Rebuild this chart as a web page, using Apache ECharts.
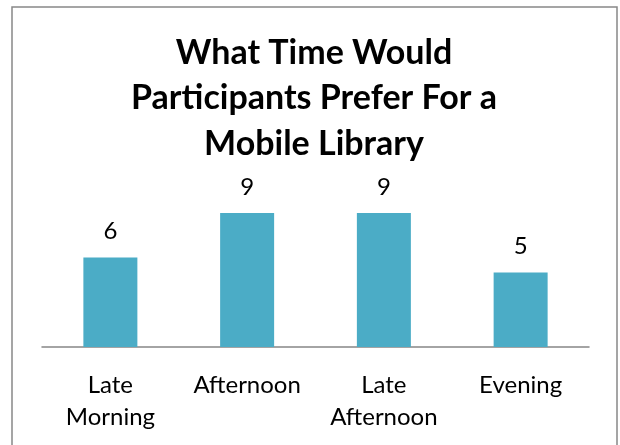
<!DOCTYPE html>
<html lang="en">
<head>
    <meta charset="UTF-8">
    <style>
        html, body { margin: 0; padding: 0; background: #fff; }
        #main { width: 620px; height: 445px; }
    </style>
    <script src="https://cdn.jsdelivr.net/npm/echarts@6/dist/echarts.min.js"></script>
    <title>Mobile Library</title>
</head>
<body>
    <div id="main"></div>
    <script>
        var titleText = 'What Time Would\nParticipants Prefer For a\nMobile Library';
        var categories = ['Late\nMorning', 'Afternoon', 'Late\nAfternoon', 'Evening'];
        var counts = [6, 9, 9, 5];

        var myChart = echarts.init(document.getElementById('main'));
        var option = {
            animation: false,
            textStyle: { fontFamily: 'Lato' },
            title: {
                text: titleText,
                left: 314,
                top: 30,
                padding: 0,
                textAlign: 'center',
                textStyle: {
                    fontFamily: 'Lato',
                    fontWeight: 'bold',
                    fontSize: 34,
                    lineHeight: 45.5,
                    color: '#000'
                }
            },
            graphic: [{
                type: 'rect',
                shape: { x: 12, y: 7, width: 605, height: 470 },
                style: { fill: 'none', stroke: '#888888', lineWidth: 1.5 },
                silent: true
            }],
            grid: { left: 42, right: 31, top: 198, bottom: 98 },
            xAxis: {
                type: 'category',
                data: categories,
                axisLine: { lineStyle: { color: '#868686', width: 1.5 } },
                axisTick: { show: false },
                axisLabel: {
                    interval: 0,
                    hideOverlap: false,
                    color: '#000',
                    fontFamily: 'Lato',
                    fontSize: 24,
                    lineHeight: 32,
                    margin: 22
                }
            },
            yAxis: {
                type: 'value',
                min: 0,
                max: 10,
                show: false,
                splitLine: { show: false }
            },
            series: [{
                type: 'bar',
                data: counts,
                barWidth: 54,
                itemStyle: { color: '#4BACC6' },
                label: {
                    show: true,
                    position: 'top',
                    distance: 14,
                    color: '#000',
                    fontFamily: 'Lato',
                    fontSize: 24,
                    lineHeight: 24
                }
            }]
        };
        myChart.setOption(option);
    </script>
</body>
</html>
